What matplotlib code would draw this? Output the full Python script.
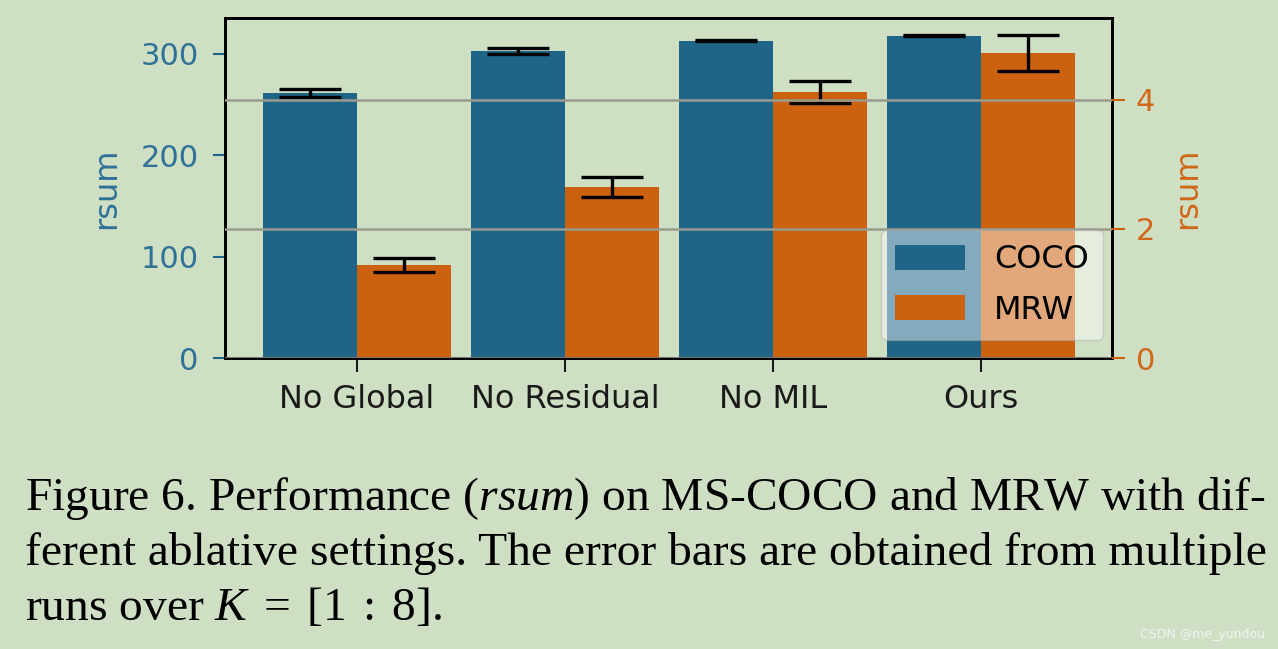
import numpy as np
import matplotlib
matplotlib.use("Agg")
from matplotlib import pyplot as plt

# data
settings = ["No Global", "No Residual", "No MIL", "Ours"]
coco = [261.5, 303.0, 313.0, 318.0]
coco_err = [4.0, 3.0, 0.5, 0.5]
mrw = [1.44, 2.65, 4.12, 4.73]
mrw_err = [0.11, 0.16, 0.17, 0.28]

bg = "#cfdfc3"
blue = "#1f6587"
orange = "#cc620f"
blue_txt = "#2f7197"
orange_txt = "#d0671a"

plt.rcParams["font.family"] = ["DejaVu Sans"]
plt.rcParams["mathtext.fontset"] = "custom"
plt.rcParams["mathtext.rm"] = "Liberation Serif"
plt.rcParams["mathtext.it"] = "Liberation Serif:italic"

fig = plt.figure(figsize=(12.78, 6.49), dpi=100, facecolor=bg)
ax = fig.add_axes([225 / 1278, 1 - 358 / 649, (1112 - 225) / 1278, (358 - 18) / 649])
ax.set_facecolor(bg)
ax2 = ax.twinx()

x = np.arange(len(settings))
w = 0.45
ekw = dict(elinewidth=2.4, capthick=2.4, ecolor="black")
b1 = ax.bar(x - w / 2, coco, w, yerr=coco_err, capsize=22, color=blue,
            error_kw=ekw, label="COCO")
b2 = ax2.bar(x + w / 2, mrw, w, yerr=mrw_err, capsize=22, color=orange,
             error_kw=ekw, label="MRW")

ax.set_xlim(-0.635, 3.63)
ax.set_ylim(0, 335.5)
ax2.set_ylim(0, 5.27)
ax.set_yticks([0, 100, 200, 300])
ax2.set_yticks([0, 2, 4])
ax.set_xticks(x)
ax.set_xticklabels(settings)

ax2.grid(axis="y", color="#9a9a8e", lw=1.8)
ax2.set_axisbelow(False)

ax.tick_params(axis="y", colors=blue, labelcolor=blue_txt, labelsize=22,
               length=9, width=1.5, pad=10)
ax2.tick_params(axis="y", colors=orange, labelcolor=orange_txt, labelsize=22,
                length=9, width=1.5, pad=8)
ax.tick_params(axis="x", labelsize=23, length=10, width=1.5, colors="#1a1a1a",
               pad=9)
ax.set_ylabel("rsum", color=blue_txt, fontsize=23, labelpad=13)
ax2.set_ylabel("rsum", color=orange_txt, fontsize=23, labelpad=12)

for a in (ax, ax2):
    for s in a.spines.values():
        s.set_linewidth(2)
        s.set_color("black")

leg = ax2.legend([b1, b2], ["COCO", "MRW"], loc="lower right",
                 bbox_to_anchor=(0.99, 0.053), borderaxespad=0, fontsize=23,
                 framealpha=0.45, facecolor="white", edgecolor="#aaaaaa",
                 handlelength=2.2, handleheight=0.85, borderpad=0.45,
                 labelspacing=0.6, handletextpad=0.9)

# caption
cap_kw = dict(family="Liberation Serif", fontsize=34.2, color="black", va="baseline")
fig.text(25 / 1278, 1 - 510 / 649,
         r"Figure 6. Performance ($\mathit{rsum}$) on MS-COCO and MRW with dif-", **cap_kw)
fig.text(25 / 1278, 1 - 565 / 649,
         "ferent ablative settings. The error bars are obtained from multiple", **cap_kw)
fig.text(25 / 1278, 1 - 620 / 649, r"runs over $K\;=\;[1\;:\;8]$.", **cap_kw)
fig.text(1265 / 1278, 1 - 638 / 649, "CSDN @me_yundou", fontsize=9,
         color="#f4f4f4", ha="right", va="baseline")

fig.savefig("out.png", dpi=100, facecolor=bg)
